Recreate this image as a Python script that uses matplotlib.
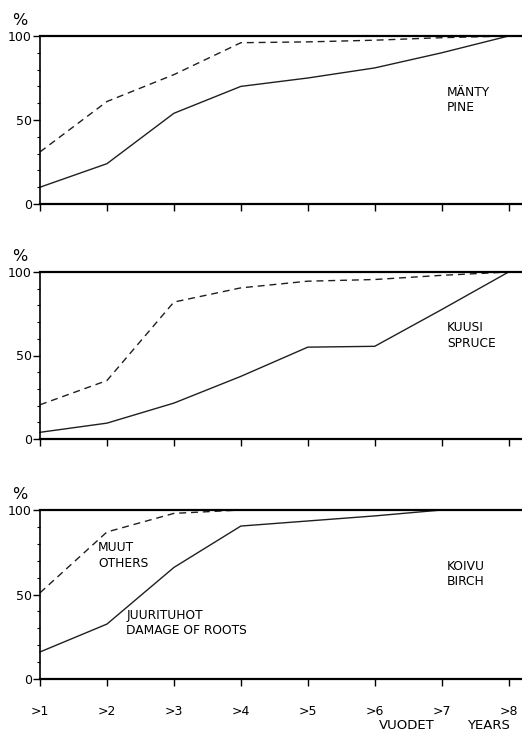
import matplotlib

matplotlib.use("Agg")
import matplotlib.pyplot as plt
from matplotlib.ticker import MultipleLocator

plt.rcParams["font.family"] = ["DejaVu Sans"]

# vuodet / years
years = [1, 2, 3, 4, 5, 6, 7, 8]
year_labels = [">1", ">2", ">3", ">4", ">5", ">6", ">7", ">8"]

# kumulatiiviset osuudet (%)
pine_roots = [10, 24, 54, 70, 75, 81, 90, 100]
pine_others = [31, 61, 77, 96, 96.5, 97.5, 99, 100]
spruce_roots = [4, 9.5, 21.5, 37.5, 55, 55.5, 77.5, 100]
spruce_others = [20.5, 35, 82, 90.5, 94.5, 95.5, 98, 100]
birch_roots = [16, 32.5, 66, 90.5, 93.5, 96.5, 100, 100]
birch_others = [51, 87, 98, 100, 100, 100, 100, 100]

species = ["MÄNTY\nPINE", "KUUSI\nSPRUCE", "KOIVU\nBIRCH"]
roots = [pine_roots, spruce_roots, birch_roots]
others = [pine_others, spruce_others, birch_others]

# paneelien ylä- ja alareuna pikseleinä
W, H = 522, 737
panel_px = [(36, 204), (272, 439), (510, 679)]

fig = plt.figure(figsize=(W / 100, H / 100), dpi=100)
fig.patch.set_facecolor("white")

line_color = "#1f1f1f"

for i, (top, bottom) in enumerate(panel_px):
    ax = fig.add_axes([40 / W, 1 - bottom / H, (W - 40) / W, (bottom - top) / H])
    ax.plot(years, roots[i], color=line_color, lw=1.0, clip_on=False)
    ax.plot(years, others[i], color=line_color, lw=1.0, ls=(0, (5, 3.5)), clip_on=False)

    ax.set_xlim(1, 8.2)
    ax.set_ylim(0, 100)
    ax.axhline(100, color="black", lw=1.6, clip_on=False)

    for side in ["right", "top"]:
        ax.spines[side].set_visible(False)
    ax.spines["bottom"].set_linewidth(1.6)
    ax.spines["left"].set_linewidth(1.2)

    ax.set_yticks([0, 50, 100])
    ax.yaxis.set_minor_locator(MultipleLocator(10))
    ax.tick_params(axis="y", which="major", length=5, width=1, labelsize=9, pad=1)
    ax.tick_params(axis="y", which="minor", length=2.5, width=0.8)
    ax.set_xticks(years)
    ax.tick_params(axis="x", length=5, width=1, labelsize=9, pad=14)
    if i < 2:
        ax.set_xticklabels([])
    else:
        ax.set_xticklabels(year_labels)

    ax.text(-0.058, 1.09, "%", transform=ax.transAxes, fontsize=11.5, ha="left", va="center")
    ax.text(7.08, 62, species[i], fontsize=8.8, ha="left", va="center", linespacing=1.25)

    if i == 2:
        ax.text(1.87, 73, "MUUT\nOTHERS", fontsize=8.8, ha="left", va="center", linespacing=1.25)
        ax.text(2.29, 33, "JUURITUHOT\nDAMAGE OF ROOTS", fontsize=8.8, ha="left", va="center",
                linespacing=1.25)

fig.text(407 / W, 1 - 719 / H, "VUODET", fontsize=9.5, ha="center", va="top")
fig.text(488 / W, 1 - 719 / H, "YEARS", fontsize=9.5, ha="center", va="top")

fig.savefig("out.png", dpi=100)
